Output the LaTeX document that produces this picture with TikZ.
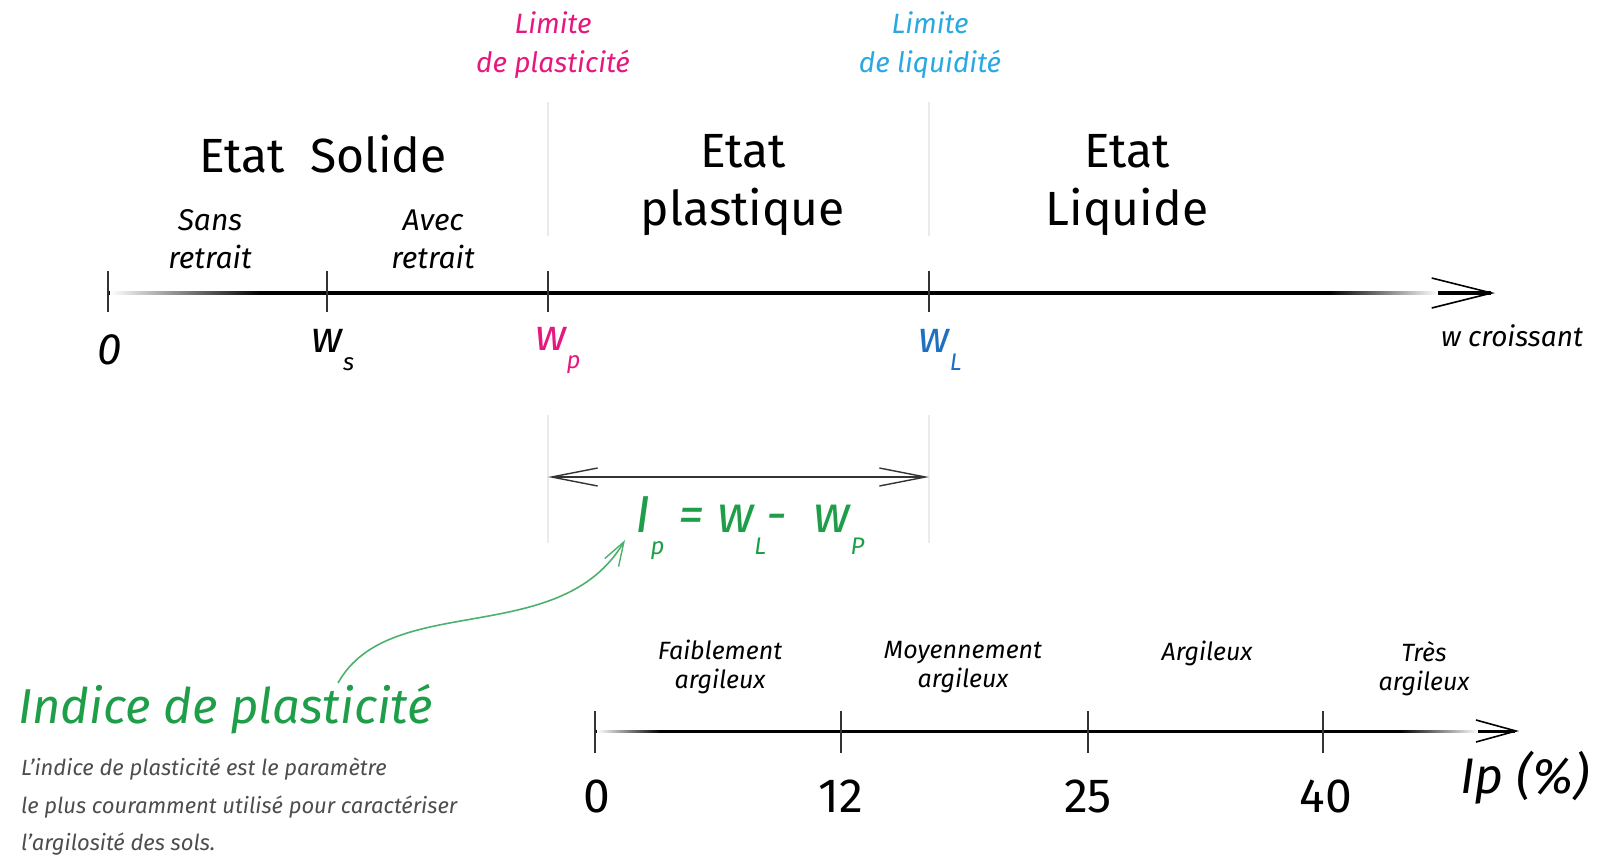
\documentclass[tikz,border=0pt]{standalone}
\usepackage{fontspec}
\setmainfont{Fira Sans}
\usetikzlibrary{arrows.meta,positioning,calc,fadings}
\definecolor{limpink}{HTML}{E6177F}
\definecolor{limcyan}{HTML}{2AA9E1}
\definecolor{wlblue}{HTML}{1F70C1}
\definecolor{ipgreen}{HTML}{1E9E48}
\definecolor{descgray}{HTML}{4D4D4D}
\newcommand{\lowidx}[2][9pt]{\raisebox{-#1}{\fontsize{12}{12}\selectfont #2}}
\tikzset{
  guide/.style={draw=black!8, line width=0.6pt},
  tickmark/.style={draw=black!80, line width=0.7pt},
  waxis/.style={line width=1.7pt, -{Straight Barb[length=30pt,width=15pt,line width=0.8pt]}},
  ipaxis/.style={line width=1.5pt, -{Straight Barb[length=20pt,width=11pt,line width=0.8pt]}},
  dimarrow/.style={line width=1pt, draw=black!80, {Straight Barb[length=23pt,width=9pt,line width=0.7pt]}-{Straight Barb[length=23pt,width=9pt,line width=0.7pt]}},
  fadeout/.style={fill=white, draw=none, path fading=#1},
}

\begin{document}
\begin{tikzpicture}[
  x=0.5pt, y=-0.5pt,
  statelbl/.style={font=\fontsize{24}{29}\selectfont, align=center},
  sublbl/.style={font=\itshape\fontsize{15}{19}\selectfont, align=center},
  limitlbl/.style={font=\itshape\fontsize{14}{19.5}\selectfont, align=center},
  wlbl/.style={font=\itshape\fontsize{22}{24}\selectfont},
  classlbl/.style={font=\itshape\fontsize{12.5}{14.5}\selectfont, align=center},
  numlbl/.style={font=\fontsize{24}{26}\selectfont},
]
\useasboundingbox (0,0) rectangle (1606,857);

% Limites
\node[limitlbl, text=limpink] (limp) at (553,45) {Limite\\de plasticité};
\node[limitlbl, text=limcyan] (liml) at (930,45) {Limite\\de liquidité};
\draw[guide] (548,102) -- (548,236);
\draw[guide] (929,102) -- (929,236);

% Etats
\node[statelbl] (solide) at (323,154) {Etat\ \ Solide};
\node[sublbl] (sans) at (210,239) {Sans\\retrait};
\node[sublbl] (avec) at (433,239) {Avec\\retrait};
\node[statelbl] (plast) at (743,185) {Etat\\plastique};
\node[statelbl] (liq) at (1127,185) {Etat\\Liquide};

% Axe des teneurs en eau
\coordinate (w0) at (108,293);
\coordinate (wend) at (1495,293);
\draw[waxis] (w0) -- (wend);
\fill[fadeout=east] (110,288) rectangle (260,298);
\fill[fadeout=west] (1330,288) rectangle (1438,298);
\foreach \x/\n in {108/o,327/s,548/p,929/l}{
  \coordinate (t\n) at (\x,293);
  \draw[tickmark] ($(t\n)+(0,-22)$) -- ($(t\n)+(0,19)$);
}
\node[wlbl] (zero) at (110,350) {0};
\node[wlbl] (ws) at (333,350) {w\lowidx{s}};
\node[wlbl, text=limpink] (wp) at (558,350) {w\lowidx{p}};
\node[wlbl, text=wlblue] (wl) at (940,350) {w\lowidx{L}};
\node[font=\itshape\fontsize{14}{16}\selectfont, anchor=west] (wcr) at (1434,336) {w croissant};

% Indice de plasticite
\draw[guide] (548,415) -- (548,543);
\draw[guide] (929,415) -- (929,543);
\coordinate (dimp) at (548,477);
\coordinate (diml) at (929,477);
\draw[dimarrow] (dimp) -- (diml);
\node[font=\itshape\fontsize{26}{28}\selectfont, text=ipgreen] (ipform) at (750,528) {I\lowidx[11pt]{p}\ = w\lowidx[11pt]{L}- \ w\lowidx[11pt]{P}};

\node[font=\itshape\fontsize{24.5}{27}\selectfont, text=ipgreen, anchor=west] (ind) at (11,709) {Indice de plasticité};
\node[font=\itshape\fontsize{11}{18.8}\selectfont, text=descgray, align=left, anchor=north west] (desc) at (14,751)
  {L’indice de plasticité est le paramètre\\le plus couramment utilisé pour caractériser\\l’argilosité des sols.};
\coordinate (ipfrom) at (338,683);
\coordinate (ipto) at (625,540);
\draw[ipgreen!80, line width=0.8pt, -{Straight Barb[length=12pt,width=8pt,line width=0.7pt]}]
  (ipfrom) .. controls (390,590) and (560,650) .. (ipto);

% Axe Ip
\coordinate (i0) at (595,731);
\coordinate (iend) at (1519,731);
\draw[ipaxis] (i0) -- (iend);
\fill[fadeout=east] (597,727) rectangle (660,735);
\fill[fadeout=west] (1400,727) rectangle (1478,735);
\foreach \x/\n in {595/a,841/b,1088/c,1323/d}{
  \coordinate (c\n) at (\x,731);
  \draw[tickmark] ($(c\n)+(0,-20)$) -- ($(c\n)+(0,22)$);
}
\node[classlbl] (faible) at (720,667) {Faiblement\\argileux};
\node[classlbl] (moyen) at (963,667) {Moyennement\\argileux};
\node[classlbl] (argil) at (1207,653) {Argileux};
\node[classlbl] (tres) at (1424,669) {Très\\argileux};
\node[numlbl] (n0) at (597,796) {0};
\node[numlbl] (n12) at (841,796) {12};
\node[numlbl] (n25) at (1088,796) {25};
\node[numlbl] (n40) at (1326,796) {40};
\node[font=\itshape\fontsize{25}{28}\selectfont] (iplbl) at (1525,778) {Ip (\%)};
\end{tikzpicture}
\end{document}
